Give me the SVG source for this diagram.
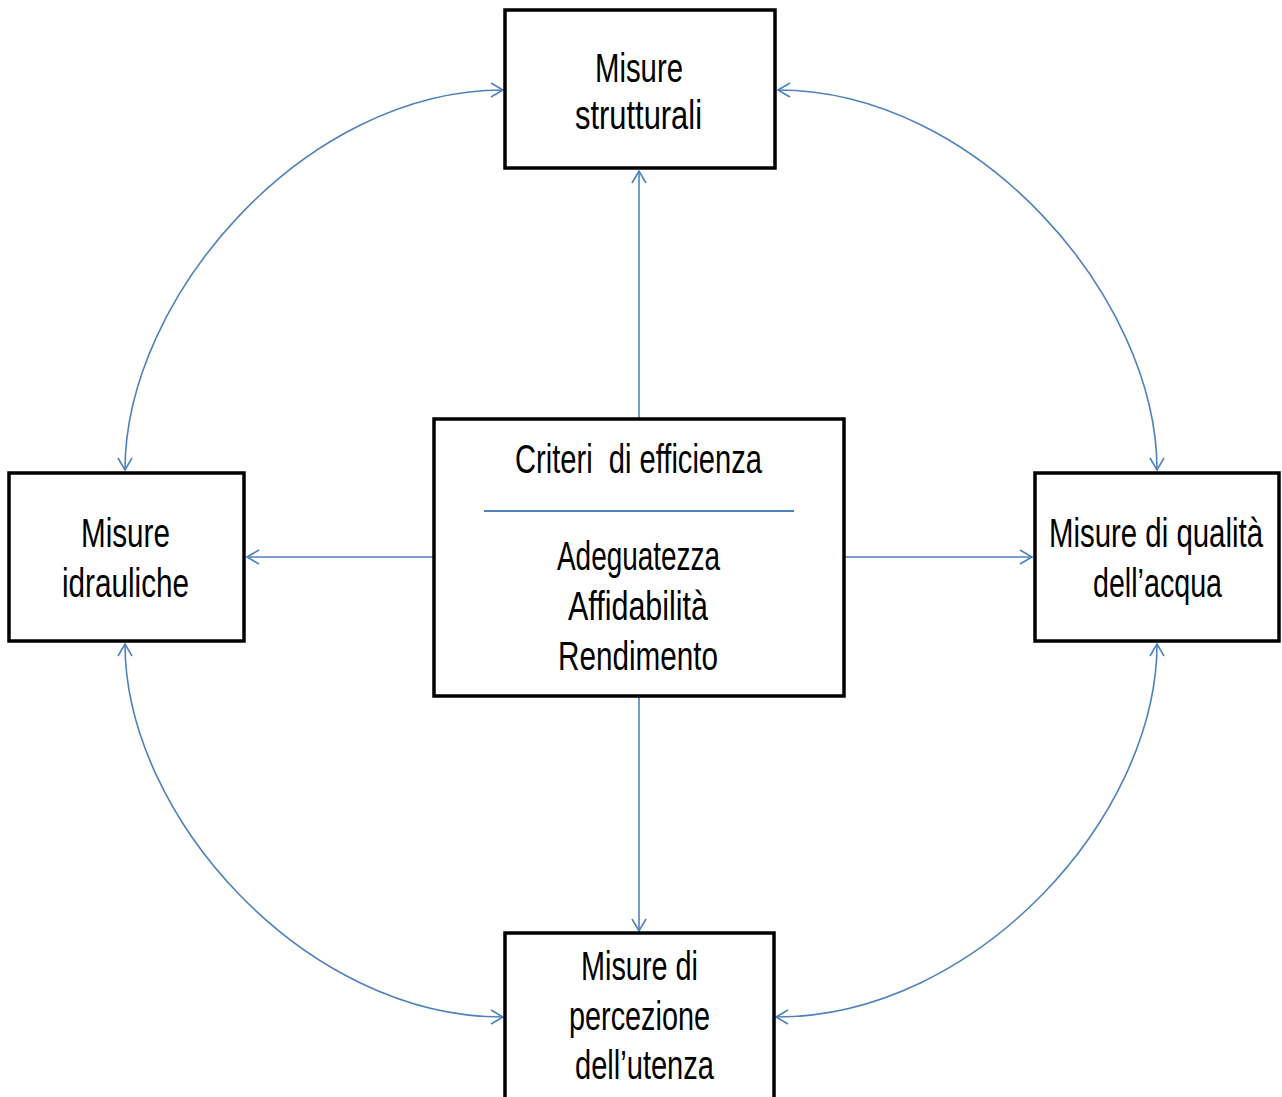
<svg xmlns="http://www.w3.org/2000/svg" width="1282" height="1097" viewBox="0 0 1282 1097">
  <style>
    .box { fill: #ffffff; stroke: #000000; stroke-width: 3.5; }
    .link { fill: none; stroke: #4f81bd; stroke-width: 1.6; }
    .lbl { font-family: "Liberation Sans", Arial, sans-serif; font-size: 29.3px; fill: #000000; white-space: pre; }
  </style>
  <defs>
    <marker id="arrow" markerUnits="userSpaceOnUse" viewBox="-14 -10 16 20" refX="0" refY="0" markerWidth="16" markerHeight="20" orient="auto-start-reverse">
      <path d="M-12,-7 L0,0 L-12,7" fill="none" stroke="#4f81bd" stroke-width="1.6"/>
    </marker>
  </defs>

  <rect width="1282" height="1097" fill="#ffffff"/>

  <!-- connectors -->
  <g id="connectors">
    <!-- outer ring: curved double-headed links -->
    <path class="link" d="M125,470 C125,297 305,90 503,90" marker-start="url(#arrow)" marker-end="url(#arrow)"/>
    <path class="link" d="M1157,470 C1157,297 977,90 778,90" marker-start="url(#arrow)" marker-end="url(#arrow)"/>
    <path class="link" d="M125,644 C125,816 305,1017 503,1017" marker-start="url(#arrow)" marker-end="url(#arrow)"/>
    <path class="link" d="M1157,644 C1157,816 977,1017 776,1017" marker-start="url(#arrow)" marker-end="url(#arrow)"/>
    <!-- spokes from the central box -->
    <path class="link" d="M639,418 L639,171" marker-end="url(#arrow)"/>
    <path class="link" d="M433,557 L247,557" marker-end="url(#arrow)"/>
    <path class="link" d="M845,557 L1032,557" marker-end="url(#arrow)"/>
    <path class="link" d="M639,697 L639,931" marker-end="url(#arrow)"/>
  </g>

  <!-- labels use a tall, narrow face: glyphs are stretched vertically by 1.4 -->
  <g id="node-strutturali">
    <rect class="box" x="505" y="10" width="270" height="158"/>
    <text class="lbl" transform="translate(595 82) scale(1 1.4)" textLength="88" lengthAdjust="spacingAndGlyphs">Misure</text>
    <text class="lbl" transform="translate(575 129) scale(1 1.4)" textLength="127" lengthAdjust="spacingAndGlyphs">strutturali</text>
  </g>

  <g id="node-criteri">
    <rect class="box" x="434" y="419" width="410" height="277"/>
    <text class="lbl" transform="translate(515 473) scale(1 1.4)" textLength="247" lengthAdjust="spacingAndGlyphs">Criteri  di efficienza</text>
    <line x1="484" y1="511" x2="794" y2="511" stroke="#4f81bd" stroke-width="2"/>
    <text class="lbl" transform="translate(557 570) scale(1 1.4)" textLength="163" lengthAdjust="spacingAndGlyphs">Adeguatezza</text>
    <text class="lbl" transform="translate(568 620) scale(1 1.4)" textLength="140" lengthAdjust="spacingAndGlyphs">Affidabilità</text>
    <text class="lbl" transform="translate(558 670) scale(1 1.4)" textLength="160" lengthAdjust="spacingAndGlyphs">Rendimento</text>
  </g>

  <g id="node-idrauliche">
    <rect class="box" x="9" y="473" width="235" height="168"/>
    <text class="lbl" transform="translate(81 547) scale(1 1.4)" textLength="89" lengthAdjust="spacingAndGlyphs">Misure</text>
    <text class="lbl" transform="translate(62 597) scale(1 1.4)" textLength="127" lengthAdjust="spacingAndGlyphs">idrauliche</text>
  </g>

  <g id="node-qualita">
    <rect class="box" x="1035" y="473" width="244" height="168"/>
    <text class="lbl" transform="translate(1049 547) scale(1 1.4)" textLength="214" lengthAdjust="spacingAndGlyphs">Misure di qualità</text>
    <text class="lbl" transform="translate(1093 597) scale(1 1.4)" textLength="129" lengthAdjust="spacingAndGlyphs">dell’acqua</text>
  </g>

  <g id="node-percezione">
    <rect class="box" x="505" y="933" width="269" height="200"/>
    <text class="lbl" transform="translate(581 980) scale(1 1.4)" textLength="117" lengthAdjust="spacingAndGlyphs">Misure di</text>
    <text class="lbl" transform="translate(569 1030) scale(1 1.4)" textLength="141" lengthAdjust="spacingAndGlyphs">percezione</text>
    <text class="lbl" transform="translate(575 1079) scale(1 1.4)" textLength="139" lengthAdjust="spacingAndGlyphs">dell’utenza</text>
  </g>
</svg>
